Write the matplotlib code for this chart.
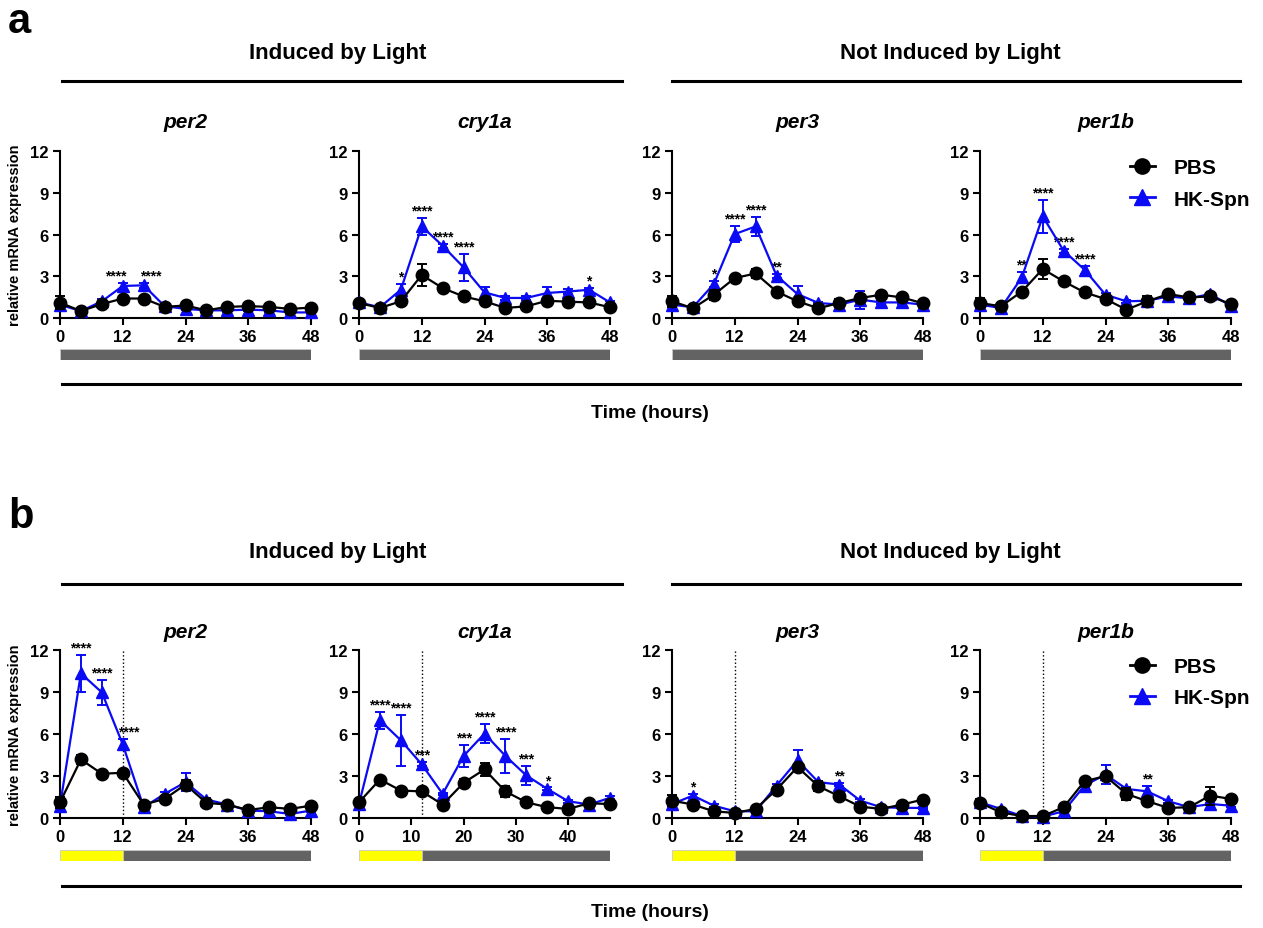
import matplotlib
matplotlib.use("Agg")
import matplotlib.pyplot as plt
from matplotlib.lines import Line2D

plt.rcParams['font.family'] = ['Liberation Sans', 'DejaVu Sans']
plt.rcParams['font.weight'] = 'bold'

W, H = 1263, 929
BLUE = '#0a0af5'
GRAY = '#636363'
YELLOW = '#ffff00'

hours = [0, 4, 8, 12, 16, 20, 24, 28, 32, 36, 40, 44, 48]
genes = ['per2', 'cry1a', 'per3', 'per1b']

# ---- panel a (constant dark) ----
a_per2_pbs = [1.1, 0.5, 1.0, 1.4, 1.4, 0.8, 0.9, 0.55, 0.8, 0.85, 0.8, 0.65, 0.75]
a_per2_pbs_err = [0.45, 0.1, 0.1, 0.1, 0.1, 0.1, 0.1, 0.1, 0.1, 0.1, 0.1, 0.1, 0.1]
a_per2_hk = [0.95, 0.5, 1.2, 2.3, 2.35, 0.85, 0.65, 0.55, 0.55, 0.6, 0.55, 0.4, 0.4]
a_per2_hk_err = [0.2, 0.1, 0.15, 0.2, 0.2, 0.1, 0.1, 0.1, 0.1, 0.1, 0.1, 0.1, 0.1]
a_per2_stars = {12: '****', 16: '****'}

a_cry1a_pbs = [1.08, 0.72, 1.2, 3.09, 2.15, 1.55, 1.2, 0.72, 0.84, 1.24, 1.17, 1.12, 0.77]
a_cry1a_pbs_err = [0.1, 0.1, 0.1, 0.8, 0.1, 0.1, 0.1, 0.1, 0.1, 0.1, 0.1, 0.1, 0.1]
a_cry1a_hk = [1.12, 0.77, 2.03, 6.58, 5.19, 3.64, 1.84, 1.44, 1.44, 1.8, 1.9, 2.03, 1.12]
a_cry1a_hk_err = [0.1, 0.1, 0.4, 0.6, 0.15, 0.95, 0.4, 0.15, 0.15, 0.4, 0.15, 0.15, 0.1]
a_cry1a_stars = {8: '*', 12: '****', 16: '****', 20: '****', 44: '*'}

a_per3_pbs = [1.2, 0.7, 1.67, 2.87, 3.2, 1.9, 1.2, 0.7, 1.08, 1.44, 1.67, 1.48, 1.05]
a_per3_pbs_err = [0.4, 0.1, 0.35, 0.15, 0.3, 0.1, 0.1, 0.1, 0.3, 0.2, 0.1, 0.1, 0.1]
a_per3_hk = [0.96, 0.77, 2.44, 6.03, 6.58, 3.04, 1.72, 1.08, 0.96, 1.32, 1.12, 1.12, 0.96]
a_per3_hk_err = [0.2, 0.1, 0.2, 0.55, 0.7, 0.15, 0.6, 0.1, 0.1, 0.65, 0.1, 0.1, 0.1]
a_per3_stars = {8: '*', 12: '****', 16: '****', 20: '**'}

a_per1b_pbs = [1.08, 0.84, 1.9, 3.52, 2.63, 1.84, 1.36, 0.6, 1.2, 1.72, 1.48, 1.55, 1.0]
a_per1b_pbs_err = [0.35, 0.1, 0.1, 0.75, 0.1, 0.1, 0.1, 0.1, 0.35, 0.2, 0.1, 0.1, 0.1]
a_per1b_hk = [0.96, 0.72, 2.92, 7.3, 4.83, 3.47, 1.67, 1.2, 1.24, 1.55, 1.41, 1.72, 0.88]
a_per1b_hk_err = [0.2, 0.1, 0.4, 1.2, 0.15, 0.3, 0.1, 0.1, 0.1, 0.3, 0.1, 0.1, 0.1]
a_per1b_stars = {8: '**', 12: '****', 16: '****', 20: '****'}

# ---- panel b (light 0-12, then dark) ----
b_per2_pbs = [1.12, 4.18, 3.16, 3.23, 0.96, 1.36, 2.39, 1.08, 0.96, 0.57, 0.77, 0.65, 0.88]
b_per2_pbs_err = [0.4, 0.3, 0.1, 0.1, 0.1, 0.1, 0.3, 0.1, 0.1, 0.1, 0.1, 0.1, 0.1]
b_per2_hk = [0.88, 10.33, 8.97, 5.26, 0.77, 1.72, 2.56, 1.32, 0.96, 0.53, 0.48, 0.29, 0.53]
b_per2_hk_err = [0.2, 1.3, 0.9, 0.4, 0.1, 0.15, 0.65, 0.1, 0.1, 0.1, 0.1, 0.1, 0.1]
b_per2_stars = {4: '****', 8: '****', 12: '****'}

b_cry1a_pbs = [1.12, 2.75, 1.96, 1.9, 0.96, 2.51, 3.47, 1.9, 1.12, 0.77, 0.65, 1.05, 1.0]
b_cry1a_pbs_err = [0.1, 0.1, 0.1, 0.1, 0.1, 0.3, 0.45, 0.4, 0.1, 0.1, 0.1, 0.2, 0.1]
b_cry1a_hk = [1.0, 6.98, 5.55, 3.83, 1.72, 4.43, 6.03, 4.43, 3.04, 2.08, 1.2, 0.96, 1.44]
b_cry1a_hk_err = [0.1, 0.6, 1.8, 0.15, 0.1, 0.8, 0.7, 1.2, 0.7, 0.1, 0.1, 0.1, 0.1]
b_cry1a_stars = {4: '****', 8: '****', 12: '***', 20: '***', 24: '****', 28: '****',
                 32: '***', 36: '*'}

b_per3_pbs = [1.24, 0.96, 0.48, 0.36, 0.65, 2.03, 3.64, 2.27, 1.55, 0.81, 0.65, 0.96, 1.32]
b_per3_pbs_err = [0.4, 0.1, 0.1, 0.1, 0.1, 0.1, 0.1, 0.35, 0.1, 0.1, 0.1, 0.1, 0.1]
b_per3_hk = [1.0, 1.6, 0.88, 0.48, 0.48, 2.32, 4.11, 2.56, 2.39, 1.24, 0.77, 0.72, 0.72]
b_per3_hk_err = [0.2, 0.15, 0.1, 0.1, 0.1, 0.1, 0.75, 0.1, 0.1, 0.1, 0.1, 0.1, 0.1]
b_per3_stars = {4: '*', 32: '**'}

b_per1b_pbs = [1.08, 0.4, 0.14, 0.14, 0.77, 2.63, 2.99, 1.72, 1.2, 0.72, 0.77, 1.6, 1.36]
b_per1b_pbs_err = [0.3, 0.1, 0.05, 0.05, 0.1, 0.1, 0.1, 0.4, 0.1, 0.1, 0.1, 0.65, 0.1]
b_per1b_hk = [1.12, 0.65, 0.14, 0.1, 0.48, 2.32, 3.11, 2.08, 1.9, 1.2, 0.77, 1.0, 0.88]
b_per1b_hk_err = [0.1, 0.1, 0.05, 0.05, 0.1, 0.1, 0.65, 0.1, 0.4, 0.1, 0.1, 0.1, 0.1]
b_per1b_stars = {32: '**'}

# light schedule: (start, end, color)
a_schedule = [(0, 48, GRAY)]
b_schedule = [(0, 12, YELLOW), (12, 48, GRAY)]

ticks_std = [0, 12, 24, 36, 48]
ticks_cry1a_b = [0, 10, 20, 30, 40]

# nudges (hours) for star labels that would collide
star_shift = {('a', 0, 12): -1.3, ('a', 0, 16): 1.3, ('b', 0, 12): 1.2}

rows = [
    dict(letter='a', top=152, bot=319, bar=350, hline=82, title=53, gene=122,
         line2=385, xlab=413, letter_y=22, schedule=a_schedule, dotted=False,
         data=[(a_per2_pbs, a_per2_pbs_err, a_per2_hk, a_per2_hk_err, a_per2_stars, ticks_std),
               (a_cry1a_pbs, a_cry1a_pbs_err, a_cry1a_hk, a_cry1a_hk_err, a_cry1a_stars, ticks_std),
               (a_per3_pbs, a_per3_pbs_err, a_per3_hk, a_per3_hk_err, a_per3_stars, ticks_std),
               (a_per1b_pbs, a_per1b_pbs_err, a_per1b_hk, a_per1b_hk_err, a_per1b_stars, ticks_std)]),
    dict(letter='b', top=651, bot=819, bar=851, hline=585, title=553, gene=633,
         line2=887, xlab=913, letter_y=517, schedule=b_schedule, dotted=True,
         data=[(b_per2_pbs, b_per2_pbs_err, b_per2_hk, b_per2_hk_err, b_per2_stars, ticks_std),
               (b_cry1a_pbs, b_cry1a_pbs_err, b_cry1a_hk, b_cry1a_hk_err, b_cry1a_stars, ticks_cry1a_b),
               (b_per3_pbs, b_per3_pbs_err, b_per3_hk, b_per3_hk_err, b_per3_stars, ticks_std),
               (b_per1b_pbs, b_per1b_pbs_err, b_per1b_hk, b_per1b_hk_err, b_per1b_stars, ticks_std)]),
]

lefts = [60, 359, 672, 980]
pw = 251


def fx(x):
    return x / W


def fy(y):
    return 1 - y / H


fig = plt.figure(figsize=(W / 100, H / 100), dpi=100)

for row in rows:
    fig.text(fx(8), fy(row['letter_y']), row['letter'], fontsize=30, fontweight='bold',
             ha='left', va='center')
    fig.text(fx(338), fy(row['title']), 'Induced by Light', fontsize=16,
             fontweight='bold', ha='center', va='center')
    fig.text(fx(950), fy(row['title']), 'Not Induced by Light', fontsize=16,
             fontweight='bold', ha='center', va='center')
    fig.add_artist(Line2D([fx(62), fx(622)], [fy(row['hline'])] * 2, color='black', lw=2.2))
    fig.add_artist(Line2D([fx(672), fx(1240)], [fy(row['hline'])] * 2, color='black', lw=2.2))
    fig.add_artist(Line2D([fx(62), fx(1240)], [fy(row['line2'])] * 2, color='black', lw=2.2))
    fig.text(fx(650), fy(row['xlab']), 'Time (hours)', fontsize=14, fontweight='bold',
             ha='center', va='center')

    for i, (pbs, pbs_err, hk, hk_err, stars, xt) in enumerate(row['data']):
        left = lefts[i]
        ax = fig.add_axes([fx(left), fy(row['bot']), pw / W, (row['bot'] - row['top']) / H])
        ax.errorbar(hours, hk, yerr=hk_err, color=BLUE, marker='^', markersize=9,
                    lw=1.6, capsize=3.5, elinewidth=1.4, capthick=1.4, clip_on=False,
                    zorder=3)
        ax.errorbar(hours, pbs, yerr=pbs_err, color='black', marker='o', markersize=9,
                    lw=1.6, capsize=3.5, elinewidth=1.4, capthick=1.4, clip_on=False,
                    zorder=4)
        for t, s in stars.items():
            k = hours.index(t)
            y = max(hk[k] + hk_err[k], pbs[k] + pbs_err[k]) + 0.25
            xs = t + star_shift.get((row['letter'], i, t), 0)
            ax.text(xs, y, s, fontsize=10, fontweight='bold', ha='center', va='baseline')
        if row['dotted']:
            ax.plot([12, 12], [0, 12], color='black', lw=1.0, ls=':', zorder=1)
        ax.set_xlim(0, 48)
        ax.set_ylim(0, 12)
        ax.set_xticks(xt)
        ax.set_yticks([0, 3, 6, 9, 12])
        ax.spines['top'].set_visible(False)
        ax.spines['right'].set_visible(False)
        ax.spines['left'].set_linewidth(1.5)
        ax.spines['bottom'].set_linewidth(1.5)
        ax.tick_params(direction='out', length=5, width=1.5, labelsize=12, pad=3)
        for lab in ax.get_xticklabels() + ax.get_yticklabels():
            lab.set_fontweight('bold')
        ax.set_title(genes[i], fontsize=15, fontweight='bold', style='italic', pad=0,
                     y=(row['bot'] - row['gene']) / (row['bot'] - row['top']), va='center')
        if i == 0:
            ax.set_ylabel('relative mRNA expression', fontsize=10.5, fontweight='bold',
                          labelpad=6)
        if i == 3:
            handles = [Line2D([], [], color='black', marker='o', markersize=11, lw=2),
                       Line2D([], [], color=BLUE, marker='^', markersize=11, lw=2)]
            ax.legend(handles, ['PBS', 'HK-Spn'], loc='upper right',
                      bbox_to_anchor=(1.15, 1.07), frameon=False,
                      prop={'size': 15, 'weight': 'bold'},
                      handlelength=1.2, handletextpad=0.9, labelspacing=0.6)

        # light/dark bar
        bax = fig.add_axes([fx(left), fy(row['bar'] + 11), pw / W, 11 / H])
        for start, end, c in row['schedule']:
            bax.barh(0, end - start, left=start, height=1, color=c, edgecolor='#c8c8c8',
                     linewidth=0.6)
        bax.set_xlim(0, 48)
        bax.set_ylim(-0.5, 0.5)
        bax.axis('off')

fig.savefig('out.png', dpi=100)
